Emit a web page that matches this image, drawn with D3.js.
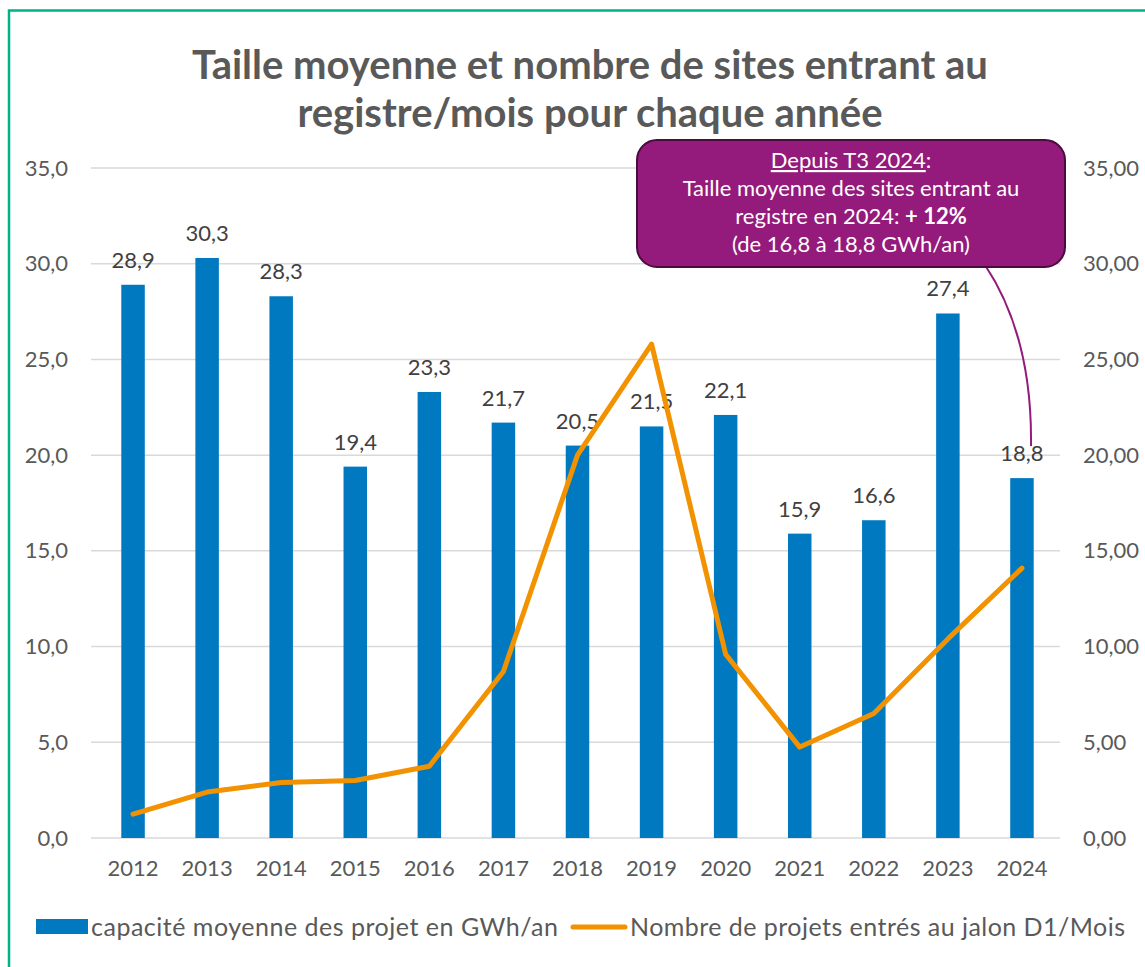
<!DOCTYPE html>
<html>
<head>
<meta charset="utf-8">
<script src="https://cdn.jsdelivr.net/npm/d3@7"></script>
<style>
  body { margin: 0; background: #fff; }
  svg { font-family: Lato, "Open Sans", sans-serif; }
</style>
</head>
<body>
<div class="chart"></div>
<script>
// data
var years = ["2012","2013","2014","2015","2016","2017","2018","2019","2020","2021","2022","2023","2024"];
var capacite = [28.9, 30.3, 28.3, 19.4, 23.3, 21.7, 20.5, 21.5, 22.1, 15.9, 16.6, 27.4, 18.8];
var nbProjets = [1.25, 2.4, 2.9, 3.0, 3.75, 8.7, 20.0, 25.8, 9.6, 4.75, 6.5, 10.4, 14.1];
var yTicks = [0, 5, 10, 15, 20, 25, 30, 35];
var titleLines = ["Taille moyenne et nombre de sites entrant au", "registre/mois pour chaque année"];
var legendLabels = ["capacité moyenne des projet en GWh/an", "Nombre de projets entrés au jalon D1/Mois"];

var w = 1145, h = 967;
var margin = {top: 168, left: 96, right: 1059, bottom: 838};
var textColor = "#595959";
var fs = 22;

var svg = d3.select("div.chart")
            .append("svg")
            .attr("width", w)
            .attr("height", h);

// frame
svg.append("path")
   .attr("d", `M9,${h} V10.5 H${w}`)
   .attr("fill", "none")
   .attr("stroke", "#00b386")
   .attr("stroke-width", 2.5);

var x = d3.scaleBand()
          .domain(years)
          .range([margin.left, margin.right]);

var yLeft = d3.scaleLinear().domain([0, 35]).range([margin.bottom, margin.top]);
var yRight = d3.scaleLinear().domain([0, 35]).range([margin.bottom, margin.top]);

var fmt1 = v => d3.format(".1f")(v).replace(".", ",");
var fmt2 = v => d3.format(".2f")(v).replace(".", ",");

// gridlines
svg.append("g")
   .selectAll("line")
   .data(yTicks)
   .enter()
   .append("line")
     .attr("x1", 91)
     .attr("x2", 1060)
     .attr("y1", d => yLeft(d))
     .attr("y2", d => yLeft(d))
     .attr("stroke", "#d9d9d9")
     .attr("stroke-width", 1.5);

// left axis
var leftAxis = svg.append("g")
   .attr("transform", "translate(68,0)")
   .call(d3.axisLeft(yLeft).tickValues(yTicks).tickFormat(fmt1).tickSize(0).tickPadding(0));
leftAxis.select(".domain").remove();
leftAxis.selectAll("text")
   .attr("font-size", fs)
   .attr("font-family", "Lato, sans-serif")
   .attr("fill", textColor);

// right axis
var rightAxis = svg.append("g")
   .attr("transform", "translate(1083,0)")
   .call(d3.axisRight(yRight).tickValues(yTicks).tickFormat(fmt2).tickSize(0).tickPadding(0));
rightAxis.select(".domain").remove();
rightAxis.selectAll("text")
   .attr("font-size", fs)
   .attr("font-family", "Lato, sans-serif")
   .attr("fill", textColor);

// x axis
var xAxis = svg.append("g")
   .attr("transform", `translate(0,${margin.bottom + 22})`)
   .call(d3.axisBottom(x).tickSize(0).tickPadding(0));
xAxis.select(".domain").remove();
xAxis.selectAll("text")
   .attr("font-size", fs)
   .attr("font-family", "Lato, sans-serif")
   .attr("fill", textColor);

// bars
var barW = 23.5;
svg.append("g")
   .selectAll("rect")
   .data(capacite)
   .enter()
   .append("rect")
     .attr("x", (d, i) => x(years[i]) + x.bandwidth() / 2 - barW / 2)
     .attr("y", d => yLeft(d))
     .attr("width", barW)
     .attr("height", d => yLeft(0) - yLeft(d))
     .attr("fill", "#0079c1");

// bar labels
svg.append("g")
   .selectAll("text")
   .data(capacite)
   .enter()
   .append("text")
     .attr("x", (d, i) => x(years[i]) + x.bandwidth() / 2)
     .attr("y", d => yLeft(d) - 17)
     .attr("text-anchor", "middle")
     .attr("font-size", fs)
     .attr("fill", "#404040")
     .text(d => fmt1(d));

// line
var line = d3.line()
   .x((d, i) => x(years[i]) + x.bandwidth() / 2)
   .y(d => yRight(d));

svg.append("path")
   .datum(nbProjets)
   .attr("d", line)
   .attr("fill", "none")
   .attr("stroke", "#f39200")
   .attr("stroke-width", 5)
   .attr("stroke-linejoin", "round")
   .attr("stroke-linecap", "round");

// title
svg.append("g")
   .selectAll("text")
   .data(titleLines)
   .enter()
   .append("text")
     .attr("x", 590)
     .attr("y", (d, i) => 79 + i * 48)
     .attr("text-anchor", "middle")
     .attr("font-size", 40)
     .attr("font-weight", "bold")
     .attr("fill", textColor)
     .text(d => d);

// callout connector
svg.append("path")
   .attr("d", "M985,265 C1015,310 1032,370 1031,446")
   .attr("fill", "none")
   .attr("stroke", "#941a7b")
   .attr("stroke-width", 2);

// callout box
svg.append("rect")
   .attr("x", 637)
   .attr("y", 140)
   .attr("width", 428)
   .attr("height", 127)
   .attr("rx", 20)
   .attr("fill", "#941a7b")
   .attr("stroke", "#4a0b3f")
   .attr("stroke-width", 2);

var callout = svg.append("text")
   .attr("text-anchor", "middle")
   .attr("font-size", 22)
   .attr("fill", "#fff");

var cx = 851;
var l1 = callout.append("tspan").attr("x", cx).attr("y", 168);
l1.append("tspan").attr("text-decoration", "underline").text("Depuis T3 2024");
l1.append("tspan").text(":");
callout.append("tspan").attr("x", cx).attr("y", 196).text("Taille moyenne des sites entrant au");
var l3 = callout.append("tspan").attr("x", cx).attr("y", 224);
l3.append("tspan").text("registre en 2024: ");
l3.append("tspan").attr("font-weight", "bold").text("+ 12%");
callout.append("tspan").attr("x", cx).attr("y", 252).text("(de 16,8 à 18,8 GWh/an)");

// legend
var legend = svg.append("g");
legend.append("rect")
   .attr("x", 36).attr("y", 919).attr("width", 52).attr("height", 15)
   .attr("fill", "#0079c1");
legend.append("text")
   .attr("x", 91).attr("y", 936)
   .attr("font-size", 25)
   .attr("textLength", 467)
   .attr("fill", textColor)
   .text(legendLabels[0]);
legend.append("line")
   .attr("x1", 573).attr("x2", 625).attr("y1", 927).attr("y2", 927)
   .attr("stroke", "#f39200").attr("stroke-width", 5).attr("stroke-linecap", "round");
legend.append("text")
   .attr("x", 630).attr("y", 936)
   .attr("font-size", 25)
   .attr("textLength", 495)
   .attr("fill", textColor)
   .text(legendLabels[1]);
</script>
</body>
</html>
